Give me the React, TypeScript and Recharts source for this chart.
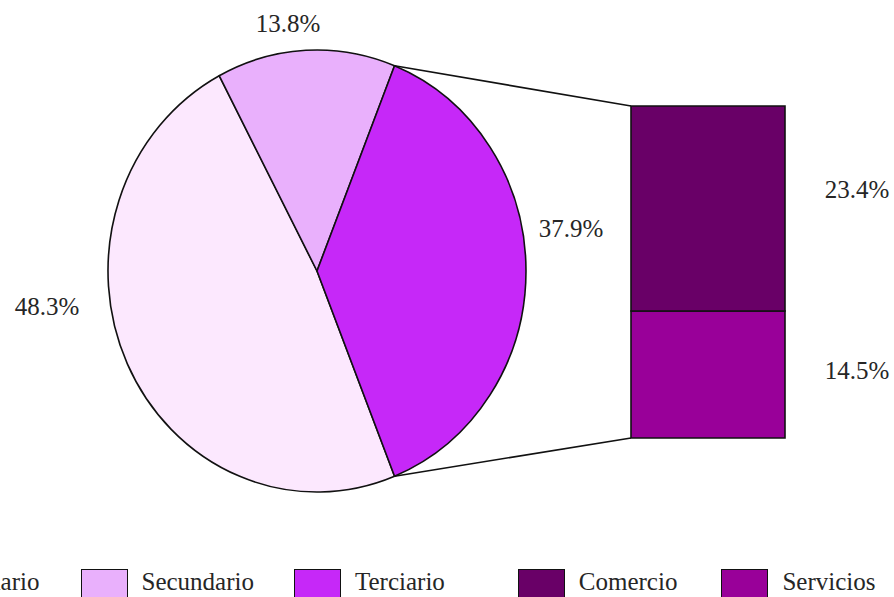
import React from 'react';
import { PieChart, Pie, Cell, BarChart, Bar, XAxis, YAxis, LabelList } from 'recharts';

const sectors = ['Primario', 'Secundario', 'Terciario'];
const sectorShares = [48.3, 13.8, 37.9];
const sectorColors = ['#fce8fe', '#e9b0fc', '#c628f8'];

const tertiaryParts = ['Comercio', 'Servicios'];
const tertiaryShares = [23.4, 14.5];
const tertiaryColors = ['#690067', '#990099'];

// label placement tweaks: [angle shift from mid angle, radius factor]
const labelNudge: [number, number][] = [[-17.7, 1.302], [4.0, 1.127], [8.9, 1.23]];

const FONT = '"Liberation Serif", "Times New Roman", serif';
const TEXT = '#262626';
const RAD = Math.PI / 180;

const PIE_CX = 317;
const PIE_CY = 271;
const PIE_R = 221;
const RX_RATIO = 209 / 221;

const BAR_LEFT = 631;
const BAR_TOP = 106;
const BAR_W = 154;
const BAR_H = 332;

const total = sectorShares.reduce((a, b) => a + b, 0);
const half = (sectorShares[2] / total) * 180;

const pieData = sectors.map((name, i) => ({ name, value: sectorShares[i] }));
const barData = [
  tertiaryParts.reduce((acc: Record<string, any>, k, i) => {
    acc[k] = tertiaryShares[i];
    return acc;
  }, { name: sectors[2] }),
];

const EllipseSector = (props: any) => {
  const { cx, cy, outerRadius, startAngle, endAngle, fill } = props;
  const rx = outerRadius * RX_RATIO;
  const ry = outerRadius;
  const pt = (a: number) => [cx + rx * Math.cos(a * RAD), cy - ry * Math.sin(a * RAD)];
  const [x1, y1] = pt(startAngle);
  const [x2, y2] = pt(endAngle);
  const large = Math.abs(endAngle - startAngle) > 180 ? 1 : 0;
  const sweep = startAngle > endAngle ? 1 : 0;
  const d = `M${cx},${cy} L${x1},${y1} A${rx},${ry} 0 ${large} ${sweep} ${x2},${y2} Z`;
  return <path d={d} fill={fill} stroke="#111" strokeWidth={1.6} strokeLinejoin="round" />;
};

const pieLabel = (props: any) => {
  const { cx, cy, midAngle, outerRadius, index, value } = props;
  const [shift, k] = labelNudge[index];
  const a = (midAngle + shift) * RAD;
  const x = cx + outerRadius * RX_RATIO * k * Math.cos(a);
  const y = cy - outerRadius * k * Math.sin(a);
  return (
    <text x={x} y={y + 8} textAnchor="middle" fill={TEXT} fontSize={25} fontFamily={FONT}>
      {value.toFixed(1)}%
    </text>
  );
};

const barLabel = (dy: number) => (props: any) => {
  const { x, y, width, height, value } = props;
  return (
    <text x={x + width + 72} y={y + height / 2 + dy} textAnchor="middle" fill={TEXT} fontSize={25} fontFamily={FONT}>
      {Number(value).toFixed(1)}%
    </text>
  );
};

const legendItems = [
  ...sectors.map((name, i) => ({ name, color: sectorColors[i] })),
  ...tertiaryParts.map((name, i) => ({ name, color: tertiaryColors[i] })),
];
const legendGaps = [0, 41, 40, 73, 44];

export default function App() {
  const rx = PIE_R * RX_RATIO;
  const topPt = [PIE_CX + rx * Math.cos(half * RAD), PIE_CY - PIE_R * Math.sin(half * RAD)];
  const botPt = [PIE_CX + rx * Math.cos(-half * RAD), PIE_CY - PIE_R * Math.sin(-half * RAD)];

  return (
    <div style={{ position: 'absolute', left: 0, top: 0, width: 894, height: 597, overflow: 'hidden', background: '#fff', fontFamily: FONT }}>
      <svg width={894} height={597} style={{ position: 'absolute', left: 0, top: 0 }}>
        <line x1={topPt[0]} y1={topPt[1]} x2={BAR_LEFT} y2={BAR_TOP} stroke="#111" strokeWidth={1.6} />
        <line x1={botPt[0]} y1={botPt[1]} x2={BAR_LEFT} y2={BAR_TOP + BAR_H} stroke="#111" strokeWidth={1.6} />
      </svg>

      <div style={{ position: 'absolute', left: 0, top: 0 }}>
        <PieChart width={894} height={560} margin={{ top: 0, right: 0, bottom: 0, left: 0 }}>
          <Pie
            data={pieData}
            dataKey="value"
            nameKey="name"
            cx={PIE_CX}
            cy={PIE_CY}
            outerRadius={PIE_R}
            startAngle={360 - half}
            endAngle={-half}
            stroke="#111"
            strokeWidth={1.6}
            shape={EllipseSector}
            label={pieLabel}
            labelLine={false}
            isAnimationActive={false}
          >
            {pieData.map((d, i) => (
              <Cell key={d.name} fill={sectorColors[i]} />
            ))}
          </Pie>
        </PieChart>
      </div>

      <div style={{ position: 'absolute', left: BAR_LEFT - 2, top: BAR_TOP - 2 }}>
        <BarChart
          width={BAR_W + 124}
          height={BAR_H + 4}
          data={barData}
          margin={{ top: 2, right: 122, bottom: 2, left: 2 }}
          barCategoryGap={0}
        >
          <XAxis dataKey="name" hide />
          <YAxis hide domain={[0, tertiaryShares[0] + tertiaryShares[1]]} />
          <Bar dataKey={tertiaryParts[1]} stackId="t" fill={tertiaryColors[1]} stroke="#111" strokeWidth={1.6} isAnimationActive={false}>
            <LabelList dataKey={tertiaryParts[1]} content={barLabel(5)} />
          </Bar>
          <Bar dataKey={tertiaryParts[0]} stackId="t" fill={tertiaryColors[0]} stroke="#111" strokeWidth={1.6} isAnimationActive={false}>
            <LabelList dataKey={tertiaryParts[0]} content={barLabel(-10)} />
          </Bar>
        </BarChart>
      </div>

      <div style={{ position: 'absolute', left: -109, top: 567, display: 'flex', alignItems: 'flex-start', whiteSpace: 'nowrap' }}>
        {legendItems.map((it, i) => (
          <div key={it.name} style={{ display: 'flex', alignItems: 'flex-start', marginLeft: legendGaps[i] }}>
            <div style={{ width: 45, height: 30, marginTop: 2, background: it.color, border: '1.5px solid #111' }} />
            <span style={{ marginLeft: 14, fontSize: 25, color: TEXT, lineHeight: '29px' }}>{it.name}</span>
          </div>
        ))}
      </div>
    </div>
  );
}
